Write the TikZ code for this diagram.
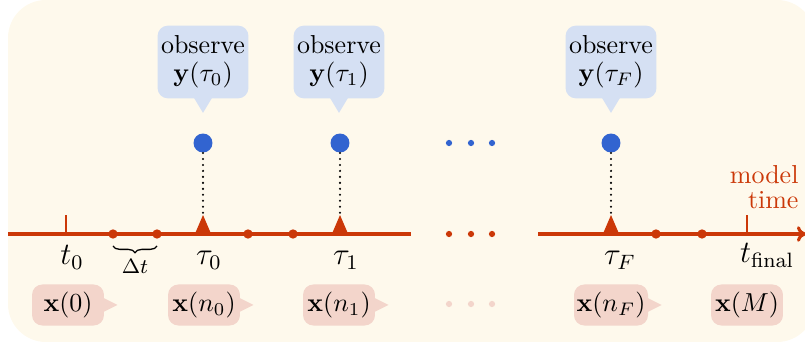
\documentclass[tikz,border=0pt]{standalone}
\usetikzlibrary{calc,decorations.pathreplacing,arrows.meta}
\definecolor{bgcol}{RGB}{254,249,236}
\definecolor{axred}{RGB}{203,56,8}
\definecolor{obsblue}{RGB}{50,100,208}
\definecolor{boxblue}{RGB}{213,224,243}
\definecolor{boxpink}{RGB}{243,213,203}
\begin{document}
\begin{tikzpicture}[x=0.385pt,y=-0.385pt,
  axis/.style={axred,line width=1.2pt},
  tickmark/.style={axred,line width=0.8pt},
  rdot/.style={circle,fill=axred,inner sep=0pt,minimum size=3.6pt},
  bdot/.style={circle,fill=obsblue,inner sep=0pt,minimum size=7.3pt},
  gapdot/.style={circle,inner sep=0pt,minimum size=2.4pt},
  obsbox/.style={fill=boxblue,rounded corners=4pt,minimum width=35pt,minimum height=28pt,
    align=center,inner sep=1pt,execute at begin node={\setlength{\baselineskip}{10.6pt}}},
  xbox/.style={fill=boxpink,rounded corners=4pt,minimum width=27.7pt,minimum height=15.8pt,inner sep=1pt},
  lbl/.style={font=\large,anchor=base},
  dotline/.style={line width=0.9pt,line cap=round,dash pattern=on 0pt off 2.3pt},
  obstri/.pic={\fill[axred] (-9,2) -- (9,2) -- (0,-19) -- cycle;}
]
\useasboundingbox (0,0) rectangle (805,347);
\fill[bgcol, rounded corners=14.6pt] (8,0) rectangle (815,342);

% axis
\coordinate (L0) at (8,234);
\coordinate (L1) at (411,234);
\coordinate (R0) at (538,234);
\coordinate (R1) at (806,234);
\draw[axis] (L0) -- (L1);
\draw[axis,-{To[length=3.5pt,width=6pt]}] (R0) -- (R1);

% ticks
\coordinate (t0) at (66,234);
\coordinate (tf) at (747,234);
\draw[tickmark] (t0) -- ++(0,-19);
\draw[tickmark] (tf) -- ++(0,-19);

% model time
\node[axred,align=right,anchor=east,inner sep=0pt,
  execute at begin node={\setlength{\baselineskip}{9.6pt}}] (mt) at (799,187) {model\\time};

% observation markers
\coordinate (tau0) at (203,234);
\coordinate (tau1) at (340,234);
\coordinate (tauF) at (611,234);
\pic at (tau0) {obstri};
\pic at (tau1) {obstri};
\pic at (tauF) {obstri};

% red dots on axis
\node[rdot] (d1) at (113,234) {};
\node[rdot] (d2) at (157,234) {};
\node[rdot] (d3) at (248,234) {};
\node[rdot] (d4) at (293,234) {};
\node[rdot] (d5) at (656,234) {};
\node[rdot] (d6) at (702,234) {};

% gap dots
\foreach \i/\xx in {1/449,2/471,3/492}{
  \node[gapdot,fill=obsblue] (gb\i) at (\xx,143) {};
  \node[gapdot,fill=axred] (gr\i) at (\xx,234) {};
  \node[gapdot,fill=boxpink] (gp\i) at (\xx,304) {};
}

% blue observation circles and dotted connectors
\node[bdot] (b0) at (203,143) {};
\node[bdot] (b1) at (340,143) {};
\node[bdot] (bF) at (611,143) {};
\coordinate (tt0) at (203,213);
\coordinate (tt1) at (340,213);
\coordinate (ttF) at (611,213);
\draw[dotline] (b0.south) -- (tt0);
\draw[dotline] (b1.south) -- (tt1);
\draw[dotline] (bF.south) -- (ttF);

% observe callouts
\node[obsbox] (o0) at (203,62) {observe\\$\mathbf{y}(\tau_0)$};
\node[obsbox] (o1) at (339,62) {observe\\$\mathbf{y}(\tau_1)$};
\node[obsbox] (oF) at (611,62) {observe\\$\mathbf{y}(\tau_F)$};
\foreach \o in {o0,o1,oF}{
  \fill[boxblue] ($(\o.south)+(-9,-1)$) -- ($(\o.south)+(9,-1)$) -- ($(\o.south)+(0,14)$) -- cycle;
}

% axis labels
\node[lbl] (lt0) at (72,265) {$t_0$};
\node[lbl] (ltau0) at (209,265) {$\tau_0$};
\node[lbl] (ltau1) at (346,265) {$\tau_1$};
\node[lbl] (ltauF) at (620,265) {$\tau_F$};
\node[lbl] (ltf) at (767,263) {$t_{\mathrm{final}}$};

% brace
\draw[decorate,decoration={brace,mirror,amplitude=2.6pt},line width=0.5pt] (d1.south |- 0,246) -- (d2.south |- 0,246);
\node[font=\footnotesize,anchor=base] (dt) at (135,274) {$\Delta t$};

% state callouts
\node[xbox] (x0) at (68,305) {$\mathbf{x}(0)$};
\node[xbox] (xn0) at (204,305) {$\mathbf{x}(n_0)$};
\node[xbox] (xn1) at (339,305) {$\mathbf{x}(n_1)$};
\node[xbox] (xnF) at (611,305) {$\mathbf{x}(n_F)$};
\node[xbox] (xM) at (747,305) {$\mathbf{x}(M)$};
\foreach \o in {x0,xn0,xn1,xnF}{
  \fill[boxpink] ($(\o.east)+(-1,-7)$) -- ($(\o.east)+(13,0)$) -- ($(\o.east)+(-1,7)$) -- cycle;
}
\end{tikzpicture}
\end{document}
